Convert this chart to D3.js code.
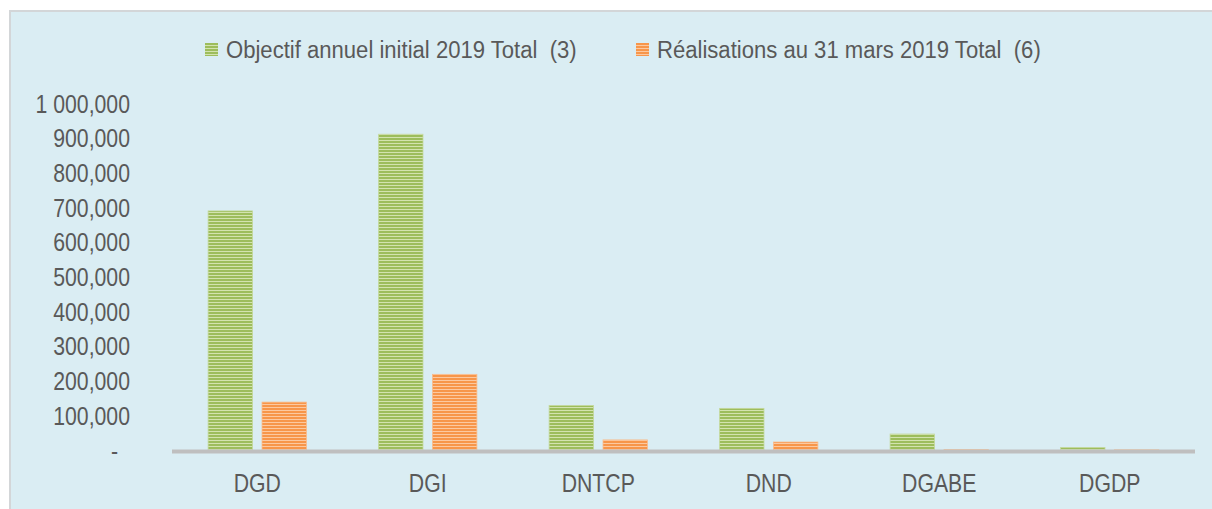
<!DOCTYPE html>
<html>
<head>
<meta charset="utf-8">
<script src="https://cdn.jsdelivr.net/npm/d3@7"></script>
<style>
  body { margin: 0; background: #ffffff; }
  text { font-family: "Liberation Sans Narrow", "Arial Narrow", "Liberation Sans", sans-serif; fill: #595959; }
</style>
</head>
<body>
<svg id="chart" width="1212" height="509"></svg>
<script>
var categories = ["DGD", "DGI", "DNTCP", "DND", "DGABE", "DGDP"];
var seriesNames = ["Objectif annuel initial 2019 Total  (3)", "Réalisations au 31 mars 2019 Total  (6)"];
var objectif = [689000, 910000, 128000, 120000, 46000, 7000];
var realisations = [138000, 218000, 29000, 23000, 1000, 500];
var yTicks = [0, 100000, 200000, 300000, 400000, 500000, 600000, 700000, 800000, 900000, 1000000];
var yTickLabels = ["-", "100,000", "200,000", "300,000", "400,000", "500,000", "600,000", "700,000", "800,000", "900,000", "1 000,000"];

var svg = d3.select("#chart");

// squeeze regular sans into a narrow look
function narrow(sel, k) {
  sel.each(function () {
    var w = this.getComputedTextLength();
    d3.select(this)
      .attr("textLength", w * k)
      .attr("lengthAdjust", "spacingAndGlyphs");
  });
}

// panel
svg.append("rect")
  .attr("x", 10).attr("y", 11)
  .attr("width", 1220).attr("height", 510)
  .attr("fill", "#daedf3")
  .attr("stroke", "#d3d6d8")
  .attr("stroke-width", 2);

var defs = svg.append("defs");
function stripes(id, dark, light) {
  var p = defs.append("pattern")
    .attr("id", id)
    .attr("patternUnits", "userSpaceOnUse")
    .attr("width", 6).attr("height", 3);
  p.append("rect").attr("width", 6).attr("height", 3).attr("fill", dark);
  p.append("rect").attr("y", 2).attr("width", 6).attr("height", 1).attr("fill", light);
}
stripes("greenStripe", "#9dbd5c", "#d3e3af");
stripes("orangeStripe", "#f7964a", "#fcc9a0");

var fills = ["url(#greenStripe)", "url(#orangeStripe)"];
var edges = ["#c4d89b", "#f9bb8a"];

var x = d3.scaleBand()
  .domain(categories)
  .range([172, 1195])
  .paddingInner(0)
  .paddingOuter(0);

var xInner = d3.scaleBand()
  .domain([0, 1])
  .range([0, x.bandwidth()])
  .paddingInner(0.177)
  .paddingOuter(0.67);

var y = d3.scaleLinear()
  .domain([0, 1000000])
  .range([450, 103]);

// y axis labels
var yAxis = svg.append("g")
  .attr("transform", "translate(130,0)")
  .call(d3.axisLeft(y)
    .tickValues(yTicks)
    .tickSize(0)
    .tickPadding(0)
    .tickFormat(function (d, i) { return yTickLabels[i]; }));
yAxis.select(".domain").remove();
yAxis.selectAll("text")
  .style("font-size", "25px")
  .attr("fill", "#595959")
  .attr("dy", "0.36em")
  .attr("x", function (d) { return d === 0 ? -12 : 0; })
  .call(narrow, 0.85);

// bars
var data = categories.map(function (c, i) {
  return { name: c, values: [objectif[i], realisations[i]] };
});

var groups = svg.append("g")
  .selectAll("g")
  .data(data)
  .join("g")
  .attr("transform", function (d) { return "translate(" + x(d.name) + ",0)"; });

groups.selectAll("rect")
  .data(function (d) { return d.values.map(function (v, k) { return { k: k, v: v }; }); })
  .join("rect")
  .attr("x", function (d) { return xInner(d.k); })
  .attr("width", xInner.bandwidth())
  .attr("y", function (d) { return y(d.v); })
  .attr("height", function (d) { return y(0) - y(d.v); })
  .attr("fill", function (d) { return fills[d.k]; })
  .attr("stroke", function (d) { return edges[d.k]; })
  .attr("stroke-width", 0.8);

// baseline
svg.append("line")
  .attr("x1", x.range()[0]).attr("x2", x.range()[1])
  .attr("y1", y(0) + 1.5).attr("y2", y(0) + 1.5)
  .attr("stroke", "#bfbfbf")
  .attr("stroke-width", 4);

// x axis labels
var xAxis = svg.append("g")
  .attr("transform", "translate(0,474)")
  .call(d3.axisBottom(x).tickSize(0).tickPadding(0));
xAxis.select(".domain").remove();
xAxis.selectAll("text")
  .style("font-size", "25px")
  .attr("fill", "#595959")
  .attr("dy", "0.71em")
  .call(narrow, 0.85);

// legend
var legendX = [205, 636];
var legend = svg.append("g")
  .selectAll("g")
  .data(seriesNames)
  .join("g")
  .attr("transform", function (d, i) { return "translate(" + legendX[i] + ",43)"; });
legend.append("rect")
  .attr("width", 13).attr("height", 13)
  .attr("fill", function (d, i) { return fills[i]; });
legend.append("text")
  .attr("x", 21)
  .attr("y", 15)
  .style("font-size", "23px")
  .attr("xml:space", "preserve")
  .style("white-space", "pre")
  .text(function (d) { return d; })
  .call(narrow, 0.96);
</script>
</body>
</html>
